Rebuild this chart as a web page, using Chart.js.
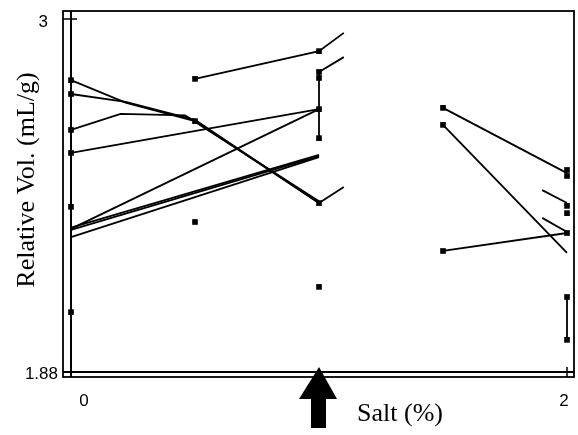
<!DOCTYPE html>
<html><head><meta charset="utf-8">
<script src="https://cdn.jsdelivr.net/npm/chart.js@4.4.1/dist/chart.umd.min.js"></script>
<style>html,body{margin:0;padding:0;background:#fff;}#c{display:block;width:578px;height:435px;}</style>
</head><body>
<canvas id="c" width="578" height="435"></canvas>
<script>
// ---- data (salt %, relative volume mL/g) ----
const xTicks = [0, 2];
const yTicks = [1.88, 3];
const arrowAt = 1;

const markersAt0  = [2.806, 2.762, 2.648, 2.575, 2.404, 2.070];
const markersAt05 = [2.810, 2.676, 2.356];
const markersAt1  = [2.898, 2.832, 2.813, 2.714, 2.622, 2.416, 2.150];
const markersAt15 = [2.718, 2.664, 2.264];
const markersAt2  = [2.521, 2.502, 2.407, 2.384, 2.321, 2.118, 1.982];

const lineA  = [[0, 2.806], [0.22, 2.735], [0.5, 2.676], [1, 2.416]];
const lineB  = [[0, 2.762], [0.22, 2.737], [0.5, 2.680], [1, 2.416]];
const lineC  = [[0, 2.648], [0.2, 2.699], [0.46, 2.694], [1, 2.422]];
const lineD  = [[0, 2.575], [1, 2.714]];
const lineE  = [[0, 2.334], [1, 2.714]];
const lineF1 = [[0, 2.338], [1, 2.569]];
const lineF2 = [[0, 2.331], [1, 2.565]];
const lineG  = [[0, 2.308], [1, 2.562]];
const lineH  = [[0.5, 2.810], [1, 2.898], [1.1, 2.956]];
const stub1  = [[1, 2.832], [1.1, 2.879]];
const stub2  = [[1, 2.416], [1.1, 2.467]];
const range1 = [[1, 2.832], [1, 2.622]];
const lineI  = [[1.5, 2.718], [2, 2.511]];
const lineJ  = [[1.5, 2.664], [2, 2.258]];
const lineK  = [[1.5, 2.264], [2, 2.321]];
const stub3  = [[1.9, 2.457], [2, 2.416]];
const stub4  = [[1.9, 2.369], [2, 2.324]];
const range2 = [[2, 2.118], [2, 1.982]];

const allLines = [lineA, lineB, lineC, lineD, lineE, lineF1, lineF2, lineG, lineH,
  stub1, stub2, range1, lineI, lineJ, lineK, stub3, stub4, range2];

const markerGroups = [[0, markersAt0], [0.5, markersAt05], [1, markersAt1], [1.5, markersAt15], [2, markersAt2]];

const toPts = arr => arr.map(p => ({x: p[0], y: p[1]}));
const markerPts = [];
markerGroups.forEach(g => g[1].forEach(v => markerPts.push({x: g[0], y: v})));

const datasets = allLines.map(l => ({
  data: toPts(l), showLine: true, borderColor: '#000', borderWidth: 1.8,
  pointRadius: 0, fill: false, tension: 0
}));
datasets.push({
  data: markerPts, showLine: false, pointStyle: 'rect', pointRadius: 4,
  backgroundColor: '#000', borderColor: '#000', borderWidth: 0
});

const framePlugin = {
  id: 'frame',
  beforeDatasetsDraw(chart) {
    const ctx = chart.ctx, a = chart.chartArea;
    const xs = chart.scales.x, ys = chart.scales.y;
    ctx.save();
    ctx.strokeStyle = '#000';
    ctx.lineWidth = 1.8;
    ctx.strokeRect(a.left, a.top, a.right - a.left, a.bottom - a.top);
    const x0 = xs.getPixelForValue(xTicks[0]);
    const yb = ys.getPixelForValue(yTicks[0]);
    ctx.lineWidth = 2;
    ctx.beginPath();
    ctx.moveTo(x0, a.top); ctx.lineTo(x0, a.bottom);
    ctx.moveTo(a.left, yb); ctx.lineTo(a.right, yb);
    ctx.stroke();
    ctx.lineWidth = 1.5;
    ctx.beginPath();
    const yt = ys.getPixelForValue(yTicks[1]);
    ctx.moveTo(a.left, yt); ctx.lineTo(x0 + 6, yt);
    const x2 = xs.getPixelForValue(xTicks[1]);
    ctx.moveTo(x2, yb - 5); ctx.lineTo(x2, a.bottom);
    ctx.stroke();
    ctx.restore();
  },
  afterDraw(chart) {
    const ctx = chart.ctx, a = chart.chartArea;
    const xs = chart.scales.x, ys = chart.scales.y;
    ctx.save();
    ctx.fillStyle = '#000';
    // tick labels
    ctx.font = '17px "Liberation Sans", Arial, sans-serif';
    ctx.textBaseline = 'middle';
    ctx.textAlign = 'right';
    ctx.fillText('1.88', a.left - 5, ys.getPixelForValue(yTicks[0]) + 2);
    ctx.fillText('3', a.left - 15, ys.getPixelForValue(yTicks[1]) + 3);
    ctx.textAlign = 'center';
    ctx.fillText('0', xs.getPixelForValue(xTicks[0]) + 13, a.bottom + 24);
    ctx.fillText('2', xs.getPixelForValue(xTicks[1]) - 3, a.bottom + 24);
    // arrow
    const ax = xs.getPixelForValue(arrowAt);
    const tip = a.bottom - 10;
    ctx.beginPath();
    ctx.moveTo(ax, tip);
    ctx.lineTo(ax + 18, tip + 32);
    ctx.lineTo(ax + 7, tip + 32);
    ctx.lineTo(ax + 7, tip + 61);
    ctx.lineTo(ax - 8, tip + 61);
    ctx.lineTo(ax - 8, tip + 32);
    ctx.lineTo(ax - 20, tip + 32);
    ctx.closePath();
    ctx.fill();
    // titles
    ctx.font = '26px "Liberation Serif", "Times New Roman", serif';
    ctx.textAlign = 'center';
    ctx.textBaseline = 'middle';
    ctx.fillText('Salt (%)', 400, a.bottom + 37);
    ctx.translate(27, 180);
    ctx.rotate(-Math.PI / 2);
    ctx.fillText('Relative Vol. (mL/g)', 0, 0);
    ctx.restore();
  }
};

new Chart(document.getElementById('c'), {
  type: 'scatter',
  data: { datasets },
  options: {
    responsive: false,
    animation: false,
    devicePixelRatio: 1,
    layout: { padding: { top: 11, right: 4, left: 0, bottom: 0 } },
    plugins: { legend: { display: false }, tooltip: { enabled: false } },
    scales: {
      x: {
        type: 'linear', min: -0.03226, max: 2.0282,
        grid: { display: false }, border: { display: false },
        ticks: { display: false },
        afterFit(s) { s.height = 58; }
      },
      y: {
        type: 'linear', min: 1.86413, max: 3.02538,
        grid: { display: false }, border: { display: false },
        ticks: { display: false },
        afterFit(s) { s.width = 63; }
      }
    }
  },
  plugins: [framePlugin]
});
</script></body></html>
